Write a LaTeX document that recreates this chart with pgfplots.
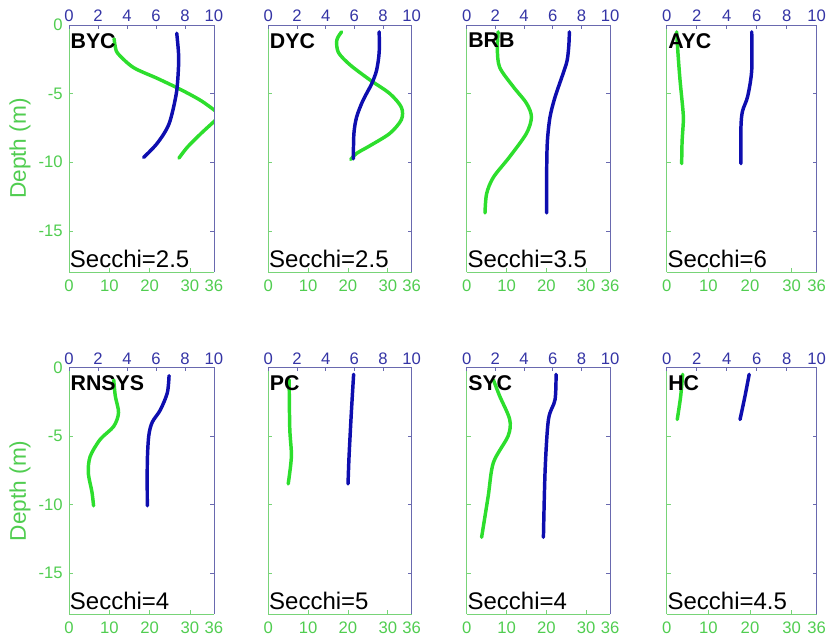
\documentclass[border=0pt]{standalone}
\usepackage{pgfplots}
\pgfplotsset{compat=1.18}
\usepackage{fontspec}
\setmainfont{Liberation Sans}
\definecolor{greenline}{RGB}{45,222,45}
\definecolor{greentext}{RGB}{80,205,80}
\definecolor{greenaxis}{RGB}{120,212,120}
\definecolor{blueline}{RGB}{14,14,175}
\definecolor{bluetext}{RGB}{52,52,165}
\definecolor{blueaxis}{RGB}{105,105,175}
\newcommand\tk{\fontsize{12.5}{13}\selectfont}
\pgfplotsset{
  common/.style={scale only axis, anchor=north west, ymin=-18, ymax=0,
    tick align=inside, major tick length=3pt, clip=true},
  gaxis/.style={common, xmin=0, xmax=36,
    axis x line*=bottom, axis y line*=left,
    axis line style={-, draw=greenaxis, line width=0.7pt},
    tick style={draw=greenaxis, line width=0.5pt},
    xtick={0,10,20,30,36}, xticklabels={0,10,20,30,36},
    ytick={-15,-10,-5,0}, yticklabels={},
    xticklabel style={font=\tk, text=greentext, inner sep=0pt, yshift=-6pt},
    yticklabel style={font=\tk, text=greentext, inner sep=0pt, xshift=-4.5pt}},
  baxis/.style={common, xmin=0, xmax=10,
    axis x line*=top, axis y line*=right,
    axis line style={-, draw=blueaxis, line width=0.7pt},
    tick style={draw=blueaxis, line width=0.5pt},
    xtick={0,2,4,6,8,10}, xticklabels={0,2,4,6,8,10},
    ytick={-15,-10,-5}, yticklabels={},
    xticklabel style={font=\tk, text=bluetext, inner sep=0pt, yshift=2.25pt}},
  gline/.style={color=greenline, line width=2.6pt, smooth, line cap=round, line join=round},
  bline/.style={color=blueline, line width=2.6pt, smooth, line cap=round, line join=round},
}
% #1 x, #2 y, #3 width, #4 height, #5 name, #6 secchi, #7 green data, #8 blue data, #9 extra options
\newcommand\panel[9]{%
\begin{axis}[gaxis, at={(#1,#2)}, width=#3, height=#4, #9]
\addplot[gline] coordinates {#7};
\node[anchor=north west, inner sep=0pt, font=\fontsize{16}{16}\selectfont\bfseries, xshift=1pt, yshift=-6pt] at (rel axis cs:0,1) {#5};
\node[anchor=base west, inner sep=0pt, font=\fontsize{18}{18}\selectfont, xshift=0.5pt, yshift=3.75pt] at (rel axis cs:0,0) {Secchi=#6};
\end{axis}
\begin{axis}[baxis, at={(#1,#2)}, width=#3, height=#4]
\addplot[bline] coordinates {#8};
\end{axis}}
\begin{document}
\begin{tikzpicture}
\path[use as bounding box] (0,0) rectangle (620.25pt,-481.5pt);
% ---- row 1
\panel{51.75pt}{-18.75pt}{108.75pt}{185.25pt}{BYC}{2.5}
{(11.2,-1.0) (11.5,-1.6) (12.2,-2.1) (16,-3.1) (22,-3.9) (27.7,-4.7) (32.7,-5.5) (36.5,-6.3) (37.5,-6.6) (36.5,-6.9) (32.8,-7.9) (29.4,-8.9) (27.3,-9.7)}
{(7.43,-0.6) (7.55,-2.0) (7.55,-3.1) (7.4,-5.0) (6.9,-7.2) (6.1,-8.6) (5.15,-9.65)}
{yticklabels={-15,-10,-5,0}}
\panel{201.2pt}{-18.75pt}{107.6pt}{185.25pt}{DYC}{2.5}
{(18.4,-0.5) (17.2,-1.1) (17.6,-2.0) (20.5,-2.9) (25.5,-4.0) (30.5,-5.0) (33.4,-6.0) (33.4,-6.9) (30.5,-7.9) (25.5,-8.8) (22.2,-9.35) (20.7,-9.8)}
{(7.73,-0.5) (7.73,-2.0) (7.55,-3.3) (7.2,-4.3) (6.6,-5.5) (6.16,-6.7) (5.97,-7.9) (5.93,-9.75)}
{}
\panel{350pt}{-18.75pt}{107.6pt}{185.25pt}{BRB}{3.5}
{(7.9,-0.5) (7.7,-1.8) (8.3,-3.1) (11.7,-4.5) (15,-5.7) (16.25,-6.7) (15,-7.9) (10.8,-9.6) (6.7,-11.1) (5,-12.3) (4.6,-13.7)}
{(7.16,-0.5) (7.12,-1.5) (7.0,-2.6) (6.7,-3.6) (6.16,-5.25) (5.81,-6.7) (5.63,-8.4) (5.58,-10.35) (5.58,-13.7)}
{}
\panel{500pt}{-18.75pt}{112.5pt}{185.25pt}{AYC}{6}
{(2.4,-0.5) (2.7,-2.0) (3.2,-4.0) (3.9,-6.2) (4.0,-7.0) (3.7,-8.5) (3.6,-10.1)}
{(5.67,-0.5) (5.67,-3.3) (5.4,-5.2) (5.05,-6.3) (4.95,-7.5) (4.95,-10.1)}
{}
% ---- row 2
\panel{51.75pt}{-275.6pt}{108.75pt}{184.9pt}{RNSYS}{4}
{(11.1,-0.9) (11.5,-2.1) (12.3,-3.3) (11.1,-4.3) (7.75,-5.25) (5.25,-6.5) (4.8,-7.7) (5.7,-9.1) (6.1,-10.1)}
{(6.9,-0.6) (6.78,-1.85) (6.3,-3.1) (5.74,-4.0) (5.5,-5.0) (5.4,-6.95) (5.4,-10.1)}
{yticklabels={-15,-10,-5,0}}
\panel{201.2pt}{-275.6pt}{107.6pt}{184.9pt}{PC}{5}
{(5.25,-0.9) (5.25,-1.4) (5.4,-4.5) (5.8,-6.5) (5.0,-8.5)}
{(5.95,-0.5) (5.79,-3.3) (5.63,-6.5) (5.56,-8.5)}
{}
\panel{350pt}{-275.6pt}{107.6pt}{184.9pt}{SYC}{4}
{(6.7,-0.9) (8.3,-2.1) (10.8,-3.8) (10.4,-5.0) (6.7,-6.95) (5.4,-9.4) (3.75,-12.4)}
{(6.23,-0.5) (6.16,-2.35) (5.7,-3.8) (5.47,-7.45) (5.35,-12.4)}
{}
\panel{500pt}{-275.6pt}{112.5pt}{184.9pt}{HC}{4.5}
{(3.84,-0.5) (3.36,-2.1) (2.54,-3.8)}
{(5.5,-0.5) (5.22,-2.1) (4.89,-3.8)}
{}
% y labels
\node[rotate=90, font=\fontsize{17}{17}\selectfont, text=greentext, inner sep=0pt] at (15pt,-111.4pt) {Depth (m)};
\node[rotate=90, font=\fontsize{17}{17}\selectfont, text=greentext, inner sep=0pt] at (15pt,-368.1pt) {Depth (m)};
\end{tikzpicture}
\end{document}
